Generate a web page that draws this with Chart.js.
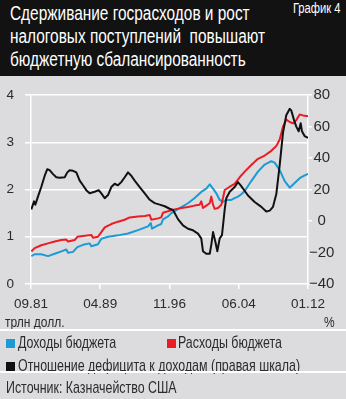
<!DOCTYPE html>
<html>
<head>
<meta charset="utf-8">
<script src="https://cdn.jsdelivr.net/npm/chart.js@4.4.1/dist/chart.umd.min.js"></script>
<style>
  body { margin: 0; }
  #box { position: relative; width: 346px; height: 399px; background: #dcdcde; overflow: hidden;
         font-family: "Liberation Sans", Arial, sans-serif; color: #2b2b2b; }
  #head { position: absolute; left: 0; top: 0; width: 346px; height: 76px; background: #121212; }
  .txt { position: absolute; white-space: nowrap; transform: scaleX(0.8); transform-origin: 0 0; }
  #title { left: 10px; top: 2px; color: #fff; font-size: 19.5px; line-height: 23px; transform: scaleX(0.79); }
  #num { right: 5px; top: 0px; color: #fff; font-size: 14px; transform-origin: 100% 0; }
  #chart { position: absolute; left: 0; top: 76px; }
  .unit { top: 313px; font-size: 15px; line-height: 18px; }
  .rule { position: absolute; left: 0; width: 346px; height: 2px; background: #fff; }
  .leg { font-size: 17px; line-height: 18px; transform: scaleX(0.73); }
  .sq { position: absolute; width: 9px; height: 9px; }
</style>
</head>
<body>
<div id="box">
  <div id="head">
    <div id="title" class="txt">Сдерживание госрасходов и рост<br>налоговых поступлений&nbsp; повышают<br>бюджетную сбалансированность</div>
    <div id="num" class="txt">График 4</div>
  </div>
  <canvas id="chart" width="346" height="254"></canvas>
  <div class="txt unit" style="left:5px">трлн долл.</div>
  <div class="txt unit" style="left:324px">%</div>
  <div class="rule" style="top:329px"></div>
  <div class="sq" style="left:6px; top:339px; background:#1b9ad6"></div>
  <div class="txt leg" style="left:18px; top:334px">Доходы бюджета</div>
  <div class="sq" style="left:167px; top:339px; background:#ec1c24"></div>
  <div class="txt leg" style="left:178px; top:334px">Расходы бюджета</div>
  <div class="sq" style="left:6px; top:362px; background:#111"></div>
  <div class="txt leg" style="left:18px; top:357px">Отношение дефицита к доходам (правая шкала)</div>
  <div class="rule" style="top:371px"></div>
  <div class="txt leg" style="left:6px; top:379px">Источник: Казначейство США</div>
</div>
<script>
// x axis ticks (decimal years) and their labels
var tickDates = [1981.667, 1989.25, 1996.833, 2004.417, 2012];
var tickLabels = ['09.81', '04.89', '11.96', '06.04', '01.12'];

// budget revenue, trillion $
var revenueDates = [1981.70, 1982.07, 1982.79, 1983.53, 1984.26, 1984.99, 1985.53, 1985.72, 1986.27, 1986.74,
  1987.36, 1988.09, 1988.27, 1988.82, 1989.0, 1989.37, 1990.10, 1991.19, 1992.29, 1993.39,
  1994.48, 1994.78, 1994.92, 1995.57, 1995.93, 1996.12, 1996.67, 1997.03, 1997.40, 1998.13,
  1998.86, 1999.59, 2000.31, 2000.86, 2001.24, 2001.60, 2001.96, 2002.33, 2002.69, 2003.05,
  2003.60, 2003.97, 2004.33, 2004.70, 2005.07, 2005.79, 2006.52, 2007.26, 2007.98, 2008.35,
  2008.90, 2009.45, 2010.0, 2010.54, 2011.09, 2011.64, 2012.0];
var revenue = [0.59, 0.63, 0.63, 0.59, 0.64, 0.69, 0.73, 0.66, 0.68, 0.78,
  0.83, 0.86, 0.80, 0.83, 0.84, 0.96, 1.0, 1.03, 1.07, 1.14,
  1.22, 1.29, 1.17, 1.24, 1.27, 1.37, 1.43, 1.50, 1.54, 1.63,
  1.71, 1.82, 1.95, 2.02, 2.11, 2.02, 1.92, 1.78, 1.74, 1.78,
  1.78, 1.82, 1.85, 1.90, 1.97, 2.18, 2.38, 2.53, 2.60, 2.57,
  2.41, 2.18, 2.04, 2.14, 2.24, 2.30, 2.33];

// budget spending, trillion $
var spendingDates = [1981.70, 1982.07, 1982.79, 1983.53, 1984.26, 1984.99, 1985.53, 1985.72, 1986.45, 1986.74,
  1987.55, 1988.27, 1988.46, 1989.0, 1989.37, 1989.74, 1990.46, 1991.19, 1991.93, 1992.47,
  1993.39, 1994.12, 1994.67, 1994.84, 1995.57, 1995.93, 1996.12, 1996.67, 1997.40, 1998.13,
  1998.86, 1999.59, 2000.14, 2000.31, 2000.50, 2000.86, 2001.24, 2001.41, 2001.60, 2001.78,
  2002.14, 2002.51, 2002.69, 2002.88, 2003.43, 2003.97, 2004.52, 2005.07, 2005.79, 2006.52,
  2007.26, 2007.98, 2008.53, 2008.90, 2009.26, 2009.62, 2010.0, 2010.36, 2010.72, 2011.09,
  2011.45, 2012.0];
var spending = [0.69, 0.76, 0.82, 0.86, 0.90, 0.93, 0.94, 0.90, 0.93, 1.0,
  1.02, 1.04, 0.98, 1.0, 1.10, 1.20, 1.27, 1.32, 1.36, 1.41,
  1.43, 1.44, 1.46, 1.36, 1.39, 1.41, 1.51, 1.54, 1.58, 1.61,
  1.63, 1.66, 1.68, 1.75, 1.61, 1.66, 1.71, 1.85, 1.68, 1.59,
  1.61, 1.68, 1.82, 1.99, 2.06, 2.12, 2.26, 2.38, 2.52, 2.65,
  2.72, 2.82, 2.92, 3.06, 3.33, 3.48, 3.43, 3.40, 3.47, 3.59,
  3.57, 3.55];

// deficit to revenue ratio, % (right axis)
var ratioDates = [1981.70, 1982.0, 1982.14, 1982.43, 1982.79, 1983.17, 1983.45, 1983.71, 1984.08, 1984.44,
  1984.81, 1985.36, 1985.64, 1985.90, 1986.27, 1986.63, 1987.0, 1987.36, 1987.72, 1988.09,
  1988.64, 1989.08, 1989.37, 1989.74, 1990.10, 1990.46, 1990.83, 1991.19, 1991.55, 1991.93,
  1992.29, 1992.65, 1993.02, 1993.57, 1994.12, 1994.67, 1995.21, 1995.76, 1996.31, 1996.85,
  1997.22, 1997.76, 1998.31, 1998.86, 1999.41, 1999.95, 2000.31, 2000.50, 2000.86, 2001.24,
  2001.41, 2001.60, 2001.85, 2002.07, 2002.33, 2002.58, 2002.88, 2003.05, 2003.43, 2003.97,
  2004.33, 2004.63, 2005.43, 2006.16, 2006.89, 2007.43, 2007.81, 2008.17, 2008.53, 2008.90,
  2009.26, 2009.62, 2010.0, 2010.17, 2010.47, 2010.72, 2010.98, 2011.20, 2011.34, 2011.64,
  2012.0];
var ratio = [7.4, 12.5, 10.4, 15.5, 21.6, 28.8, 32.9, 32.3, 29.8, 27.8,
  27.5, 27.8, 30.9, 32.3, 31.9, 30.9, 25.7, 22.7, 19.6, 17.6,
  18.6, 19.6, 17.6, 14.5, 16.5, 21.6, 23.7, 22.7, 24.7, 27.8,
  30.9, 28.8, 25.7, 21.6, 17.6, 13.5, 11.4, 10.4, 9.4, 7.8,
  7.0, 1.2, -2.8, -4.9, -5.9, -8.0, -11, -19.2, -20.8, -20.8,
  -15.1, -7, -13, -19.2, -11, -9, 7.4, 14.5, 18.6, 21.6,
  24.7, 22.7, 16.2, 12.1, 9.0, 6.0, 6.6, 9.0, 17.1, 35.5,
  56, 67.2, 71.3, 70.2, 64.1, 60, 57, 62.1, 57, 53.9,
  52.9];

function pts(dates, vals) {
  return dates.map(function(d, i) { return { x: d, y: vals[i] }; });
}

Chart.defaults.font.family = '"Liberation Sans", Arial, sans-serif';
Chart.defaults.color = '#2b2b2b';

var line = { pointRadius: 0, borderWidth: 2, tension: 0, borderJoinStyle: 'round', fill: false };

new Chart(document.getElementById('chart'), {
  type: 'line',
  data: {
    datasets: [
      Object.assign({ data: pts(ratioDates, ratio), borderColor: '#111', yAxisID: 'y1' }, line),
      Object.assign({ data: pts(spendingDates, spending), borderColor: '#ec1c24', yAxisID: 'y' }, line),
      Object.assign({ data: pts(revenueDates, revenue), borderColor: '#1b9ad6', yAxisID: 'y' }, line)
    ]
  },
  options: {
    responsive: false,
    animation: false,
    layout: { padding: { top: 12, bottom: 0, left: 0, right: 0 } },
    plugins: { legend: { display: false }, tooltip: { enabled: false } },
    scales: {
      x: {
        type: 'linear', min: 1981.667, max: 2012,
        afterBuildTicks: function(s) { s.ticks = tickDates.map(function(v) { return { value: v }; }); },
        ticks: { callback: function(v, i) { return tickLabels[i]; }, font: { size: 13.5 }, padding: 7, maxRotation: 0, autoSkip: false },
        grid: { drawOnChartArea: false, color: '#fff', lineWidth: 1.5, tickLength: 5 },
        border: { display: false },
        afterFit: function(s) { s.height = 46; }
      },
      y: {
        position: 'left', min: 0, max: 4,
        ticks: { stepSize: 1, font: { size: 13.5 }, padding: 11 },
        grid: { color: '#fff', lineWidth: 1.5, tickLength: 6 },
        border: { color: '#fff', width: 1.5 },
        afterFit: function(s) { s.width = 31; }
      },
      y1: {
        position: 'right', min: -40, max: 80,
        ticks: { stepSize: 20, font: { size: 15 }, crossAlign: 'center', padding: -3,
          callback: function(v) { return v < 0 ? '\u2212' + Math.abs(v) : v; } },
        grid: { drawOnChartArea: false, color: '#fff', lineWidth: 1.5, tickLength: 4 },
        border: { color: '#fff', width: 1.5 },
        afterFit: function(s) { s.width = 38; }
      }
    }
  }
});
</script>
</body>
</html>
